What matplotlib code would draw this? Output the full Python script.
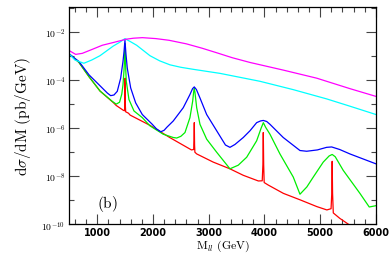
import math
import matplotlib
matplotlib.use("Agg")
import matplotlib.pyplot as plt
from matplotlib.ticker import FixedLocator, NullFormatter, FuncFormatter

plt.rcParams['mathtext.fontset'] = 'cm'

# dilepton invariant mass spectra
red_m = [500, 670, 850, 1050, 1290, 1340, 1470, 1490, 1495, 1500, 1505, 1510, 1560, 1590,
         1950, 2300, 2690, 2730, 2736, 2741, 2746, 2752, 2785, 3080, 3380, 3620, 3890, 3960,
         3972, 3979, 3986, 3995, 4070, 4340, 4640, 4940, 5120, 5195, 5208, 5215, 5222, 5235,
         5350, 5540, 5700, 6000]
red_y = [1.2e-3, 5.5e-4, 1.4e-4, 3.5e-5, 1.15e-5, 8.8e-6, 5.5e-6, 5.3e-6, 1e-5, 1.2e-4, 8e-6, 4.8e-6, 4.2e-6, 3.5e-6,
         1.3e-6, 4.1e-7, 1.25e-7, 1.3e-7, 3e-7, 1.7e-6, 2e-7, 1e-7, 8.5e-8, 3.9e-8, 2.05e-8, 1.1e-8, 6.4e-9, 6.5e-9,
         3e-8, 6.6e-7, 3e-8, 5.5e-9, 4.3e-9, 1.95e-9, 1.05e-9, 5.5e-10, 4.0e-10, 4.5e-10,
         2e-9, 4.2e-8, 2e-9, 3e-10, 1.8e-10, 9e-11, 5e-11, 2e-11]

green_m = [500, 670, 850, 1050, 1270, 1340, 1400, 1440, 1462, 1480, 1490, 1497, 1505, 1512, 1521,
           1569, 1659, 1808, 1946, 2185, 2364, 2425, 2500, 2574, 2663, 2712, 2730, 2741, 2752, 2784, 2843,
           2963, 3143, 3381, 3530, 3681, 3860, 3940, 3980, 4020, 4099, 4278, 4517, 4637, 4760, 4876, 5055,
           5160, 5215, 5270, 5413, 5713, 5880, 6000]
green_y = [1.2e-3, 5.5e-4, 1.4e-4, 3.5e-5, 1.3e-5, 1.0e-5, 1.2e-5, 2.6e-5, 6.4e-5, 2.5e-4, 8e-4, 3.3e-3, 8e-4, 2.5e-4, 8.9e-5,
           1.55e-5, 5.2e-6, 2.75e-6, 1.25e-6, 5.6e-7, 4.1e-7, 3.9e-7, 4.6e-7, 6.6e-7, 2.75e-6, 1.33e-5, 3.3e-5, 4.4e-5, 3.2e-5, 7.1e-6, 1.45e-6,
           3.5e-7, 1.0e-7, 2.05e-8, 2.9e-8, 6.2e-8, 3.0e-7, 1.0e-6, 1.7e-6, 1.1e-6, 5.6e-7, 8.5e-8, 9.3e-9, 1.8e-9, 3.6e-9, 9.3e-9, 3.9e-8,
           7e-8, 8.1e-8, 6.5e-8, 1.77e-8, 1.95e-9, 5.3e-10, 6e-10]

blue_m = [500, 672, 852, 1031, 1180, 1241, 1300, 1359, 1420, 1462, 1480, 1497, 1515, 1539, 1600,
          1689, 1808, 1987, 2060, 2140, 2200, 2250, 2364, 2543, 2663, 2710, 2741, 2780, 2843, 2963, 3143,
          3300, 3381, 3470, 3620, 3740, 3860, 3930, 3979, 4040, 4099, 4337, 4637, 4757, 4950, 5116, 5206,
          5350, 5534, 6000]
blue_y = [1.2e-3, 5.9e-4, 1.65e-4, 6.4e-5, 2.9e-5, 2.25e-5, 2.4e-5, 3.4e-5, 1.2e-4, 6e-4, 1.5e-3, 4.5e-3, 1.2e-3, 3.1e-4, 4.7e-5,
          1.13e-5, 3.7e-6, 1.45e-6, 9.5e-7, 7.1e-7, 8.2e-7, 1.1e-6, 2.0e-6, 7.1e-6, 2.5e-5, 4.4e-5, 5.2e-5, 4.0e-5, 1.8e-5, 3.7e-6, 7.8e-7,
          2.0e-7, 1.6e-7, 2.1e-7, 4.1e-7, 7.8e-7, 1.7e-6, 2.0e-6, 2.1e-6, 1.9e-6, 1.45e-6, 4.1e-7, 1.18e-7, 1.1e-7, 1.25e-7, 1.6e-7, 1.66e-7,
          1.3e-7, 8.5e-8, 3.3e-8]

cyan_m = [500, 600, 760, 900, 1049, 1288, 1400, 1497, 1600, 1707, 1946, 2120, 2305, 2500, 2723, 3202,
          3919, 4517, 5116, 5534, 6000]
cyan_y = [1.2e-3, 6.8e-4, 5.0e-4, 6.8e-4, 1.03e-3, 2.6e-3, 3.7e-3, 5.3e-3, 3.9e-3, 2.8e-3, 1.03e-3, 6.3e-4, 4.3e-4, 3.4e-4, 2.8e-4, 1.9e-4,
          8.9e-5, 4.0e-5, 1.65e-5, 8.2e-6, 3.7e-6]

magenta_m = [500, 613, 731, 900, 1090, 1300, 1520, 1650, 1810, 2050, 2290, 2600, 2884, 3150, 3422, 3740,
             4337, 4937, 5534, 6000]
magenta_y = [1.66e-3, 1.17e-3, 1.29e-3, 1.85e-3, 2.8e-3, 3.7e-3, 5.0e-3, 5.5e-3, 5.8e-3, 5.3e-3, 4.5e-3, 3.2e-3, 2.1e-3, 1.35e-3,
             8.5e-4, 5.4e-4, 2.6e-4, 1.2e-4, 4.4e-5, 2.1e-5]

x_major = [1000, 2000, 3000, 4000, 5000, 6000]
y_labelled = [1e-10, 1e-8, 1e-6, 1e-4, 1e-2]
y_unlabelled = [1e-9, 1e-7, 1e-5, 1e-3, 1e-1]

fig = plt.figure(figsize=(3.92, 2.55), dpi=100)
ax = fig.add_axes([0.177, 0.116, 0.782, 0.853])

lw = 0.9
ax.plot(red_m, red_y, color='#ff0000', lw=lw)
ax.plot(green_m, green_y, color='#00ee00', lw=lw)
ax.plot(blue_m, blue_y, color='#0000ff', lw=lw)
ax.plot(cyan_m, cyan_y, color='#00ffff', lw=lw)
ax.plot(magenta_m, magenta_y, color='#ff00ff', lw=lw)

ax.set_yscale('log')
ax.set_xlim(500, 6000)
ax.set_ylim(1e-10, 1.1e-1)

ax.xaxis.set_major_locator(FixedLocator(x_major))
ax.xaxis.set_minor_locator(FixedLocator(range(600, 6000, 200)))
ax.yaxis.set_major_locator(FixedLocator(y_labelled))
ax.yaxis.set_minor_locator(FixedLocator(y_unlabelled))
ax.yaxis.set_minor_formatter(NullFormatter())
ax.yaxis.set_major_formatter(FuncFormatter(lambda v, p: r'$10^{%d}$' % round(math.log10(v))))

ax.tick_params(which='both', direction='in', top=True, right=True, color='#444444')
ax.tick_params(which='major', length=7, width=0.8, labelsize=7, pad=3)
ax.tick_params(axis='x', which='major', pad=2)
ax.tick_params(which='minor', length=3.5, width=0.8)
for lab in ax.get_xticklabels():
    lab.set_fontweight('bold')

for s in ax.spines.values():
    s.set_linewidth(0.9)

ax.set_ylabel(r'$\mathrm{d}\sigma\mathrm{/dM\ (pb/GeV)}$', fontsize=11, labelpad=6)
fig.text(0.568, 0.002, r'$\mathrm{M}_{ll}\ \mathrm{(GeV)}$', fontsize=8.5, ha='center', va='bottom')
ax.text(1180, 7.5e-10, r'$\mathrm{(b)}$', ha='center', va='center', fontsize=11)

fig.savefig('out.png', dpi=100)
